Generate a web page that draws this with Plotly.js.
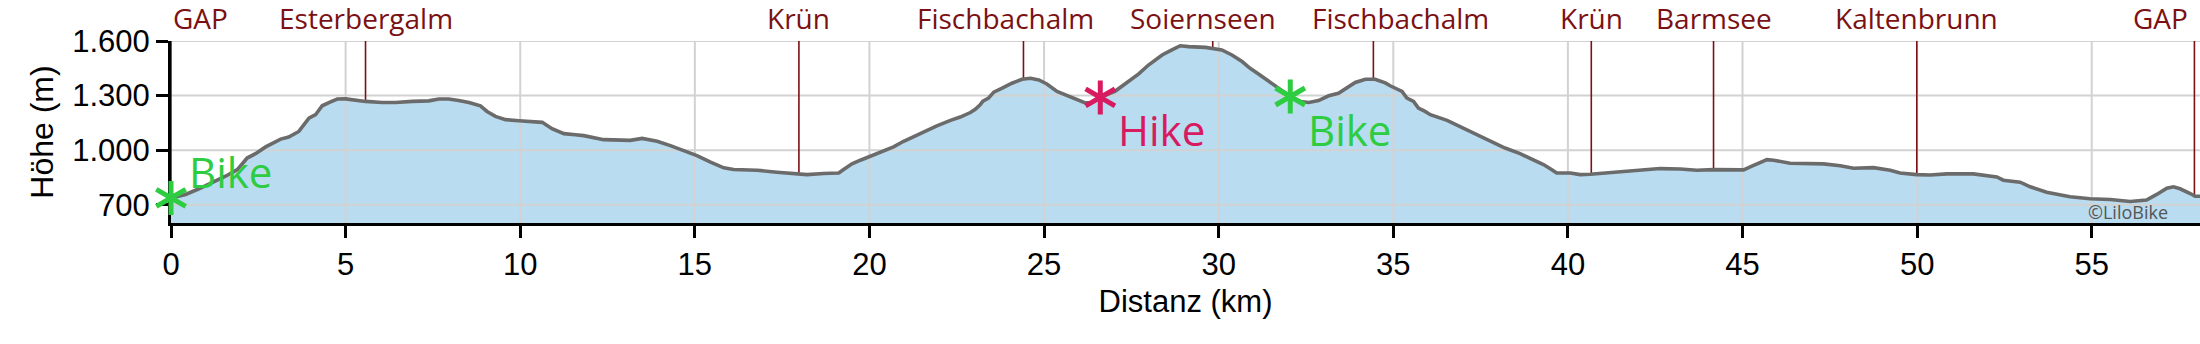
<!DOCTYPE html>
<html><head><meta charset="utf-8">
<script src="https://cdn.plot.ly/plotly-3.0.1.min.js"></script>
<style>html,body{margin:0;padding:0;background:#fff}#chart{width:2200px;height:344px}</style>
</head><body><div id="chart"></div>
<script>
// ---------- DATA ----------
const distKm = [0, 0.42, 0.80, 1.18, 1.56, 1.90, 2.18, 2.42, 2.71, 3.14, 3.37, 3.66, 3.80, 3.95, 4.14, 4.33, 4.52, 4.76, 5.00, 5.28, 5.57, 6.05, 6.43, 6.91, 7.38, 7.67, 7.95, 8.24, 8.53, 8.86, 9.05, 9.29, 9.58, 9.96, 10.29, 10.63, 10.91, 11.25, 11.58, 11.82, 12.39, 13.15, 13.49, 13.92, 14.30, 14.73, 15.06, 15.45, 15.83, 16.11, 16.78, 17.35, 18.02, 18.21, 18.69, 19.12, 19.26, 19.50, 19.74, 20.03, 20.41, 20.69, 20.98, 21.36, 21.65, 21.93, 22.32, 22.60, 22.89, 23.03, 23.17, 23.25, 23.41, 23.56, 23.80, 24.08, 24.37, 24.61, 24.85, 25.08, 25.37, 25.66, 25.89, 26.18, 26.37, 26.61, 27.04, 27.42, 27.71, 27.99, 28.38, 28.66, 28.90, 29.14, 29.62, 30.09, 30.38, 30.67, 30.90, 31.14, 31.38, 31.62, 31.86, 32.05, 32.34, 32.58, 32.86, 33.15, 33.43, 33.62, 33.91, 34.20, 34.48, 34.77, 34.91, 35.25, 35.39, 35.58, 35.72, 35.91, 36.06, 36.54, 36.87, 37.11, 37.49, 37.87, 38.20, 38.63, 39.02, 39.30, 39.54, 39.68, 40.07, 40.35, 40.64, 41.31, 41.88, 42.64, 43.22, 43.69, 44.17, 44.65, 45.03, 45.22, 45.41, 45.70, 45.89, 46.17, 46.36, 47.32, 47.80, 48.18, 48.75, 49.23, 49.51, 49.99, 50.37, 50.85, 51.61, 52.28, 52.47, 52.95, 53.24, 53.71, 54.38, 54.95, 55.53, 56.10, 56.57, 56.86, 57.15, 57.34, 57.53, 57.82, 57.96, 58.10];
const elevM = [738, 757, 788, 820, 857, 893, 957, 981, 1018, 1061, 1072, 1103, 1140, 1176, 1195, 1244, 1262, 1281, 1282, 1273, 1268, 1262, 1262, 1268, 1271, 1281, 1281, 1273, 1262, 1244, 1213, 1186, 1168, 1162, 1157, 1153, 1118, 1091, 1085, 1080, 1058, 1054, 1065, 1049, 1025, 994, 970, 934, 903, 894, 890, 879, 872, 866, 872, 875, 894, 925, 945, 967, 994, 1018, 1049, 1085, 1109, 1134, 1164, 1182, 1207, 1225, 1250, 1270, 1286, 1319, 1341, 1368, 1390, 1395, 1386, 1364, 1323, 1301, 1281, 1260, 1262, 1290, 1325, 1380, 1419, 1468, 1523, 1551, 1574, 1569, 1565, 1551, 1523, 1487, 1450, 1419, 1386, 1350, 1317, 1295, 1268, 1262, 1273, 1299, 1313, 1335, 1372, 1390, 1390, 1370, 1354, 1323, 1286, 1268, 1231, 1213, 1195, 1164, 1134, 1113, 1080, 1043, 1012, 981, 948, 921, 893, 875, 875, 866, 868, 879, 888, 899, 897, 890, 893, 890, 892, 908, 925, 948, 945, 934, 928, 925, 915, 901, 904, 890, 875, 866, 864, 870, 870, 853, 835, 824, 799, 769, 744, 733, 729, 718, 726, 757, 791, 799, 788, 762, 747, 747];
const waypointNames = ['GAP', 'Esterbergalm', 'Krün', 'Fischbachalm', 'Soiernseen', 'Fischbachalm', 'Krün', 'Barmsee', 'Kaltenbrunn', 'GAP'];
const waypointKm = [0, 5.57, 17.98, 24.41, 29.83, 34.43, 40.67, 44.17, 49.99, 57.94];
const modeNames = ['Bike', 'Hike', 'Bike'];
const modeKm = [0, 26.61, 32.05];
const xTicks = [0, 5, 10, 15, 20, 25, 30, 35, 40, 45, 50, 55];
const yTicks = [700, 1000, 1300, 1600];
const yMin = 600, yMax = 1600;

// ---------- STYLE ----------
const labelFont = 'Open Sans, Noto Sans, sans-serif';
const axisFont = 'Liberation Sans, Arial, sans-serif';
const wpColor = '#7b1113';
const modeColors = {Bike: '#2ecc40', Hike: '#d81b60'};
// pixel nudges for label placement (overlap avoidance in the original)
const labelShift = [0, 0, 0, -18, -10, 27, 0, 0, 0, 0];
// label above (bottom anchored) or below (top anchored) the asterisk
const modeLabelBelow = [false, true, true];

function elevAt(km) {
  if (km <= distKm[0]) return elevM[0];
  for (let i = 1; i < distKm.length; i++) {
    if (km <= distKm[i]) {
      const t = (km - distKm[i-1]) / (distKm[i] - distKm[i-1]);
      return elevM[i-1] + t * (elevM[i] - elevM[i-1]);
    }
  }
  return elevM[elevM.length - 1];
}

const xRange = [0, distKm[distKm.length - 1]];
const toPaperX = km => (km - xRange[0]) / (xRange[1] - xRange[0]);
const toPaperY = e => (e - yMin) / (yMax - yMin);

const traces = [];
traces.push({x: distKm, y: elevM, type: 'scatter', mode: 'lines', fill: 'tozeroy',
  fillcolor: '#b9dcf0', line: {width: 0, color: 'rgba(0,0,0,0)'}, hoverinfo: 'skip', showlegend: false});
const gx = [], gy = [];
yTicks.forEach(t => { gx.push(xRange[0], xRange[1], null); gy.push(t, t, null); });
xTicks.forEach(t => { if (t > xRange[0]) { gx.push(t, t, null); gy.push(yMin, yMax, null); } });
traces.push({x: gx, y: gy, type: 'scatter', mode: 'lines', line: {color: '#d2d2d2', width: 2},
  hoverinfo: 'skip', showlegend: false, connectgaps: false});
const wx = [], wy = [];
waypointKm.forEach(k => { wx.push(k, k, null); wy.push(yMax, elevAt(k), null); });
traces.push({x: wx, y: wy, type: 'scatter', mode: 'lines', line: {color: wpColor, width: 1.6},
  hoverinfo: 'skip', showlegend: false, connectgaps: false});
traces.push({x: distKm, y: elevM, type: 'scatter', mode: 'lines',
  line: {color: '#6b6b6b', width: 3.6}, hoverinfo: 'skip', showlegend: false});

const star = 'M0,-17L0,17M-14.7,-8.5L14.7,8.5M-14.7,8.5L14.7,-8.5';
const shapes = modeKm.map((k, i) => ({
  type: 'path', xref: 'paper', yref: 'paper', xsizemode: 'pixel', ysizemode: 'pixel',
  xanchor: toPaperX(k), yanchor: toPaperY(elevAt(k)), path: star,
  line: {color: modeColors[modeNames[i]], width: 5}, layer: 'above'
}));

const annotations = [];
waypointNames.forEach((n, i) => {
  const last = i === waypointNames.length - 1;
  annotations.push({
    x: waypointKm[i], xref: 'x', y: 1, yref: 'paper', yanchor: 'bottom',
    xanchor: i === 0 ? 'left' : (last ? 'right' : 'center'),
    xshift: labelShift[i] + (last ? -4 : 0), yshift: 2, text: n, showarrow: false,
    font: {family: labelFont, size: 28, color: wpColor}
  });
});
modeNames.forEach((n, i) => {
  annotations.push({
    x: modeKm[i], xref: 'x', y: elevAt(modeKm[i]), yref: 'y',
    xanchor: 'left', yanchor: modeLabelBelow[i] ? 'top' : 'bottom',
    xshift: 16, yshift: modeLabelBelow[i] ? -2 : -4, text: n, showarrow: false,
    font: {family: labelFont, size: 42, color: modeColors[n]}
  });
});
annotations.push({x: 0.985, xref: 'paper', y: 0.06, yref: 'paper', xanchor: 'right', yanchor: 'middle',
  text: '©LiloBike', showarrow: false, font: {family: labelFont, size: 18, color: '#555555'}});

const layout = {
  width: 2200, height: 344,
  margin: {l: 171, r: 0, t: 41, b: 121, pad: 0},
  paper_bgcolor: '#ffffff', plot_bgcolor: '#ffffff',
  separators: ',.',
  showlegend: false, hovermode: false,
  xaxis: {
    range: xRange, tickvals: xTicks, ticktext: xTicks.map(String),
    showgrid: false, zeroline: false, showline: true, linecolor: '#000', linewidth: 3,
    ticks: 'outside', ticklen: 12, tickwidth: 3, tickcolor: '#000', layer: 'above traces',
    tickfont: {family: axisFont, size: 31, color: '#000'},
    title: {text: 'Distanz (km)', font: {family: axisFont, size: 31, color: '#000'}, standoff: 10}
  },
  yaxis: {
    range: [yMin, yMax], tickvals: yTicks, separatethousands: true, tickformat: ',d',
    showgrid: false, zeroline: false, showline: true, linecolor: '#000', linewidth: 3,
    ticks: 'outside', ticklen: 12, tickwidth: 3, tickcolor: '#000', layer: 'above traces',
    tickfont: {family: axisFont, size: 31, color: '#000'},
    title: {text: 'Höhe (m)', font: {family: axisFont, size: 32, color: '#000'}, standoff: 10}
  },
  shapes: shapes,
  annotations: annotations
};

Plotly.newPlot('chart', traces, layout, {staticPlot: true, displayModeBar: false});
</script>
</body></html>
